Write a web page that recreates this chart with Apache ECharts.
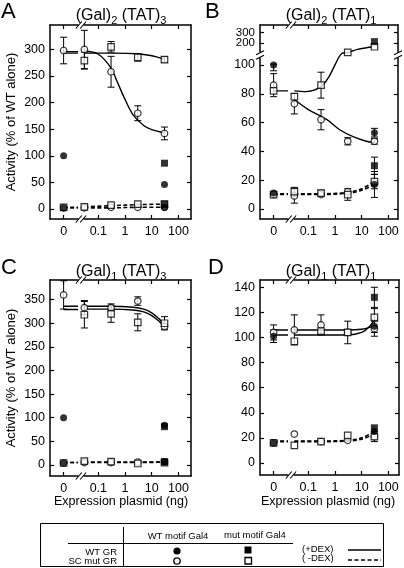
<!DOCTYPE html>
<html><head><meta charset="utf-8">
<script src="https://cdn.jsdelivr.net/npm/echarts@6/dist/echarts.min.js"></script>
<style>html,body{margin:0;padding:0;background:#fff}#c{width:404px;height:568px}</style>
</head><body><div id="c"></div><script>
// ---------- shared x (ng of expression plasmid) ----------
const X_NG = [0, 0.03, 0.3, 3, 30];
const X_TICK_NG = [0, 0.1, 1, 10, 100];
const X_TICK_LABELS = ['0', '0.1', '1', '10', '100'];

// ---------- Panel A : (Gal)2 (TAT)3 ----------
const A_Y_TICKS = [0, 50, 100, 150, 200, 250, 300];
const A_FC_P = [100, null, null, null, 46];
const A_FS_P = [null, null, null, null, 86];
const A_OC_P = [298, 300, 258, 180, 142];
const A_OC_P_ERR = [25, 36, 29, 14, 12];
const A_OS_P = [null, 279, 305, 285, 281];
const A_OS_P_ERR = [null, 16, 10, 7, 5];
const A_FC_M = [2, null, null, null, 3];
const A_FS_M = [null, null, null, null, 9];
const A_OC_M = [2, 2, 3, 3, 3];
const A_OS_M = [3, 4, 7, 9, 9];
const A_FIT_OC_ZERO = 296;
const A_FIT_OC_X = [0.03, 0.1, 0.3, 0.5, 1, 2, 5, 10, 30];
const A_FIT_OC_Y = [297, 291, 265, 240, 206, 177, 157, 149, 143];
const A_FIT_OS_ZERO = 293;
const A_FIT_OS_X = [0.03, 0.3, 3, 8, 15, 30];
const A_FIT_OS_Y = [293, 293, 292, 289, 286, 281];
const A_FITM_OC_ZERO = 2;
const A_FITM_OC_X = [0.03, 0.3, 3, 30];
const A_FITM_OC_Y = [2, 2, 3, 3];
const A_FITM_OS_ZERO = 3;
const A_FITM_OS_X = [0.03, 0.3, 3, 30];
const A_FITM_OS_Y = [4, 6, 8, 9];

// ---------- Panel B : (Gal)2 (TAT)1 (broken y axis) ----------
const B_Y_TICKS = [0, 20, 40, 60, 80, 100];
const B_Y_TICKS_UPPER = [200, 300];
const B_FC_P = [100, null, null, null, 53];
const B_FC_P_ERR = [4, null, null, null, 3];
const B_FS_P = [null, null, null, null, 213];
const B_OC_P = [86, 73, 62, 47, 47];
const B_OC_P_ERR = [8, 7, 7, 2.5, 2];
const B_OS_P = [82, 78, 86, 157, 183];
const B_OS_P_ERR = [null, null, 9, null, null];
const B_FC_M = [11, null, null, null, 17];
const B_FC_M_ERR = [1, null, null, null, 9];
const B_FS_M = [null, null, null, null, 30];
const B_FS_M_ERR = [null, null, null, null, 6];
const B_OC_M = [10, 9, 10, 12, 18];
const B_OC_M_ERR = [null, 5, null, null, null];
const B_OS_M = [10, 12, 11, 10, 19];
const B_OS_M_ERR = [null, 3, 2, 4, 5];
const B_FIT_OS_ZERO = 82;
const B_FIT_OS_X = [0.03, 0.08, 0.3, 0.6, 1, 1.8, 3, 7, 25];
const B_FIT_OS_Y = [82, 81.5, 85, 92, 101, 152, 157, 171, 183];
const B_FIT_OC_X = [0.03, 0.1, 0.5, 1.5, 5, 15, 30];
const B_FIT_OC_Y = [76, 69, 62, 55, 50, 47, 46];
const B_FITM_OC_ZERO = 10;
const B_FITM_OC_X = [0.03, 0.3, 3, 10, 30];
const B_FITM_OC_Y = [10, 10, 11, 13, 17];
const B_FITM_OS_ZERO = 10.5;
const B_FITM_OS_X = [0.03, 0.3, 3, 10, 30];
const B_FITM_OS_Y = [10.5, 10.5, 11.5, 14, 19];

// ---------- Panel C : (Gal)1 (TAT)3 ----------
const C_Y_TICKS = [0, 50, 100, 150, 200, 250, 300, 350];
const C_FC_P = [100, null, null, null, 84];
const C_FS_P = [null, null, null, null, 81];
const C_OC_P = [360, 333, 333, 347, 293];
const C_OC_P_ERR = [30, 15, 8, 9, 5];
const C_OS_P = [null, 318, 320, 302, 300];
const C_OS_P_ERR = [null, 28, 18, 18, 14];
const C_FC_M = [4, null, null, null, 6];
const C_FS_M = [null, null, null, null, 7];
const C_OC_M = [4, 5, 5, 6, 6];
const C_OS_M = [4, 8, 7, 3, 5];
const C_FIT_OC_ZERO = 336;
const C_FIT_OC_X = [0.03, 0.3, 2, 5, 10, 20, 30];
const C_FIT_OC_Y = [336, 336, 334, 330, 322, 308, 297];
const C_FIT_OS_ZERO = 329;
const C_FIT_OS_X = [0.03, 0.3, 2, 5, 10, 20, 30];
const C_FIT_OS_Y = [330, 330, 328, 324, 316, 303, 294];
const C_FITM_OC_ZERO = 5;
const C_FITM_OC_X = [0.03, 0.3, 3, 30];
const C_FITM_OC_Y = [5, 5, 5, 6];
const C_FITM_OS_ZERO = 5;
const C_FITM_OS_X = [0.03, 0.3, 3, 30];
const C_FITM_OS_Y = [6, 6, 6, 6];

// ---------- Panel D : (Gal)1 (TAT)1 ----------
const D_Y_TICKS = [0, 20, 40, 60, 80, 100, 120, 140];
const D_FC_P = [101, null, null, null, 109];
const D_FC_P_ERR = [5, null, null, null, 5];
const D_FS_P = [null, null, null, null, 132];
const D_FS_P_ERR = [null, null, null, null, 8];
const D_OC_P = [104, 106, 110, 104, 107];
const D_OC_P_ERR = [6, 12, 8, 9, 6];
const D_OS_P = [null, 97, 105, 104, 116];
const D_OS_P_ERR = [null, null, null, null, 7];
const D_FC_M = [16, null, null, null, 25];
const D_FS_M = [null, null, null, null, 28];
const D_OC_M = [16, 23, 17, 18, 21];
const D_OC_M_ERR = [null, null, null, null, 4];
const D_OS_M = [16, 14, 17, 22, 21];
const D_FIT_OC_ZERO = 106;
const D_FIT_OC_X = [0.03, 0.3, 3, 10, 20, 30];
const D_FIT_OC_Y = [106, 106, 106, 106.5, 108, 109];
const D_FIT_OS_ZERO = 102;
const D_FIT_OS_X = [0.03, 0.3, 3, 10, 20, 30];
const D_FIT_OS_Y = [102, 102, 102, 104, 109, 114];
const D_FITM_OC_ZERO = 17;
const D_FITM_OC_X = [0.03, 0.3, 3, 10, 30];
const D_FITM_OC_Y = [17, 17, 17.5, 19, 23];
const D_FITM_OS_ZERO = 17.5;
const D_FITM_OS_X = [0.03, 0.3, 3, 10, 30];
const D_FITM_OS_Y = [17.5, 17.5, 18, 20, 25];

// ---------- scale helpers ----------
const ZERO_LOG = -2.3, BREAK_L_LOG = -1.76, BREAK_MARK_LOG = -1.65;
function xpos(v) { return v === 0 ? ZERO_LOG : Math.log10(v); }
const ident = v => v;
function tB(v) { // broken y scale of panel B
  if (v <= 100) return v;
  if (v <= 200) return 100 + (v - 100) * 0.153;
  return 115.3 + (v - 200) * 0.072;
}
const FONT = 'Liberation Sans, Arial, Helvetica, sans-serif';

const panels = [
  { grid: {left: 50, top: 25, width: 141, height: 194}, xr: [-2.81, 2.47], yr: [-19, 346], yTicks: A_Y_TICKS, tf: ident,
    pts: {fcP: [A_FC_P], fsP: [A_FS_P], ocP: [A_OC_P, A_OC_P_ERR], osP: [A_OS_P, A_OS_P_ERR], fcM: [A_FC_M], fsM: [A_FS_M], ocM: [A_OC_M], osM: [A_OS_M]},
    fits: [[A_FIT_OC_ZERO, A_FIT_OC_X, A_FIT_OC_Y, false], [A_FIT_OS_ZERO, A_FIT_OS_X, A_FIT_OS_Y, false],
           [A_FITM_OC_ZERO, A_FITM_OC_X, A_FITM_OC_Y, true], [A_FITM_OS_ZERO, A_FITM_OS_X, A_FITM_OS_Y, true]] },
  { grid: {left: 260, top: 25, width: 138, height: 194}, xr: [-2.81, 2.36], yr: [-7, 127.8], yTicks: B_Y_TICKS, yTicksUpper: B_Y_TICKS_UPPER, tf: tB, yBreak: 107,
    pts: {fcP: [B_FC_P, B_FC_P_ERR], fsP: [B_FS_P], ocP: [B_OC_P, B_OC_P_ERR], osP: [B_OS_P, B_OS_P_ERR], fcM: [B_FC_M, B_FC_M_ERR], fsM: [B_FS_M, B_FS_M_ERR], ocM: [B_OC_M, B_OC_M_ERR], osM: [B_OS_M, B_OS_M_ERR]},
    fits: [[B_FIT_OS_ZERO, B_FIT_OS_X, B_FIT_OS_Y, false], [null, B_FIT_OC_X, B_FIT_OC_Y, false],
           [B_FITM_OC_ZERO, B_FITM_OC_X, B_FITM_OC_Y, true], [B_FITM_OS_ZERO, B_FITM_OS_X, B_FITM_OS_Y, true]] },
  { grid: {left: 50, top: 280, width: 141, height: 196}, xr: [-2.81, 2.47], yr: [-23.5, 391.6], yTicks: C_Y_TICKS, tf: ident,
    pts: {fcP: [C_FC_P], fsP: [C_FS_P], ocP: [C_OC_P, C_OC_P_ERR], osP: [C_OS_P, C_OS_P_ERR], fcM: [C_FC_M], fsM: [C_FS_M], ocM: [C_OC_M], osM: [C_OS_M]},
    fits: [[C_FIT_OC_ZERO, C_FIT_OC_X, C_FIT_OC_Y, false], [C_FIT_OS_ZERO, C_FIT_OS_X, C_FIT_OS_Y, false],
           [C_FITM_OC_ZERO, C_FITM_OC_X, C_FITM_OC_Y, true], [C_FITM_OS_ZERO, C_FITM_OS_X, C_FITM_OS_Y, true]] },
  { grid: {left: 260, top: 280, width: 139, height: 195}, xr: [-2.81, 2.4], yr: [-9.6, 145.8], yTicks: D_Y_TICKS, tf: ident,
    pts: {fcP: [D_FC_P, D_FC_P_ERR], fsP: [D_FS_P, D_FS_P_ERR], ocP: [D_OC_P, D_OC_P_ERR], osP: [D_OS_P, D_OS_P_ERR], fcM: [D_FC_M], fsM: [D_FS_M], ocM: [D_OC_M, D_OC_M_ERR], osM: [D_OS_M]},
    fits: [[D_FIT_OC_ZERO, D_FIT_OC_X, D_FIT_OC_Y, false], [D_FIT_OS_ZERO, D_FIT_OS_X, D_FIT_OS_Y, false],
           [D_FITM_OC_ZERO, D_FITM_OC_X, D_FITM_OC_Y, true], [D_FITM_OS_ZERO, D_FITM_OS_X, D_FITM_OS_Y, true]] }
];

const MARK = {
  fc: {symbol: 'circle', symbolSize: 7, itemStyle: {color: '#000'}},
  oc: {symbol: 'circle', symbolSize: 6.5, itemStyle: {color: '#fff', borderColor: '#000', borderWidth: 1.2}},
  fs: {symbol: 'rect', symbolSize: 7, itemStyle: {color: '#000'}},
  os: {symbol: 'rect', symbolSize: 6.5, itemStyle: {color: '#fff', borderColor: '#000', borderWidth: 1.2}}
};

const grids = [], xAxes = [], yAxes = [], series = [];
const tickStyle = {show: true, inside: true, length: 4, lineStyle: {color: '#000', width: 1.2}};
const lineStyleAx = {show: true, onZero: false, lineStyle: {color: '#000', width: 1.5}};
const mkFmt = (vals, labels) => v => { const k = vals.findIndex(u => Math.abs(u - v) < 1e-6); return k >= 0 ? labels[k] : ''; };

panels.forEach((p, i) => {
  grids.push(Object.assign({show: false, outerBoundsMode: 'none', containLabel: false}, p.grid));
  const xVals = X_TICK_NG.map(xpos);
  const yLow = p.yTicks.map(p.tf);
  const yUpTicks = p.yTicksUpper || [];
  const yUp = yUpTicks.map(p.tf);
  const yAll = yLow.concat(yUp);
  const xi = xAxes.length;
  ['bottom', 'top'].forEach((pos, j) => {
    xAxes.push({type: 'value', gridIndex: i, position: pos, min: p.xr[0], max: p.xr[1],
      axisLine: lineStyleAx, splitLine: {show: false},
      axisTick: Object.assign({customValues: xVals}, tickStyle),
      axisLabel: {show: j === 0, customValues: xVals, formatter: mkFmt(xVals, X_TICK_LABELS), margin: 6, color: '#000', fontSize: 12.5, fontFamily: FONT}});
  });
  const yi = yAxes.length;
  ['left', 'right'].forEach((pos, j) => {
    yAxes.push({type: 'value', gridIndex: i, position: pos, min: p.yr[0], max: p.yr[1],
      axisLine: lineStyleAx, splitLine: {show: false},
      axisTick: Object.assign({customValues: yAll}, tickStyle),
      axisLabel: {show: j === 0, customValues: yLow, formatter: mkFmt(yLow, p.yTicks.map(String)), margin: 5, color: '#000', fontSize: 12.5, fontFamily: FONT}});
  });
  // labels of the compressed upper segment, one axis per label so none is hidden
  yUp.forEach((u, k) => {
    yAxes.push({type: 'value', gridIndex: i, position: 'left', min: p.yr[0], max: p.yr[1],
      axisLine: {show: false}, axisTick: {show: false}, splitLine: {show: false},
      axisLabel: {show: true, customValues: [u], formatter: () => String(yUpTicks[k]), margin: 5, color: '#000', fontSize: 11.5, fontFamily: FONT}});
  });
  // fits
  p.fits.forEach(([zero, xs, ys, dashed]) => {
    const ls = {color: '#000', width: dashed ? 1.6 : 1.4, type: dashed ? [4, 2.5] : 'solid'};
    if (zero !== null) {
      series.push({type: 'line', xAxisIndex: xi, yAxisIndex: yi, symbol: 'none', silent: true, animation: false, z: 2,
        lineStyle: ls, data: [[ZERO_LOG, p.tf(zero)], [BREAK_L_LOG, p.tf(zero)]]});
    }
    series.push({type: 'line', xAxisIndex: xi, yAxisIndex: yi, symbol: 'none', silent: true, animation: false, z: 2,
      smooth: 0.35, lineStyle: ls, data: xs.map((x, k) => [xpos(x), p.tf(ys[k])])});
  });
  // error bars
  const eb = [];
  Object.values(p.pts).forEach(([vals, errs]) => {
    if (!errs) return;
    vals.forEach((v, k) => { if (v !== null && errs[k] !== null) eb.push([xpos(X_NG[k]), p.tf(v - errs[k]), p.tf(v + errs[k])]); });
  });
  series.push({type: 'custom', xAxisIndex: xi, yAxisIndex: yi, z: 3, silent: true, animation: false,
    encode: {x: 0, y: [1, 2]}, data: eb,
    renderItem: (params, api) => {
      const x = api.value(0), lo = api.value(1), hi = api.value(2);
      const a = api.coord([x, hi]), b = api.coord([x, lo]), w = 3.5;
      const st = {stroke: '#000', lineWidth: 1};
      return {type: 'group', children: [
        {type: 'line', shape: {x1: a[0], y1: a[1], x2: b[0], y2: b[1]}, style: st},
        {type: 'line', shape: {x1: a[0] - w, y1: a[1], x2: a[0] + w, y2: a[1]}, style: st},
        {type: 'line', shape: {x1: b[0] - w, y1: b[1], x2: b[0] + w, y2: b[1]}, style: st}]};
    }});
  // markers (open first, filled on top)
  const order = [['ocM', 'oc'], ['osM', 'os'], ['ocP', 'oc'], ['osP', 'os'], ['fcM', 'fc'], ['fsM', 'fs'], ['fcP', 'fc'], ['fsP', 'fs']];
  order.forEach(([key, m], n) => {
    const vals = p.pts[key][0];
    const data = [];
    vals.forEach((v, k) => { if (v !== null) data.push([xpos(X_NG[k]), p.tf(v)]); });
    series.push(Object.assign({type: 'scatter', xAxisIndex: xi, yAxisIndex: yi, z: 5 + n, silent: true, animation: false, data}, MARK[m]));
  });
  p.axIdx = {xi, yi};
});

// ---------- texts ----------
const graphic = [];
const rich = {s: {fontSize: 11, fontFamily: FONT, verticalAlign: 'bottom', lineHeight: 10}};
function title(x, y, a, b) {
  graphic.push({type: 'text', x, y, style: {text: '(Gal){s|' + a + '} (TAT){s|' + b + '}', rich, fontSize: 16, lineHeight: 20, fontFamily: FONT, fill: '#000', align: 'center', verticalAlign: 'middle'}});
}
function letter(x, y, t) { graphic.push({type: 'text', x, y, style: {text: t, fontSize: 22, fontFamily: FONT, fill: '#000'}}); }
letter(1, 1, 'A'); letter(205, 1, 'B'); letter(1, 257, 'C'); letter(208, 257, 'D');
title(121, 16, '2', '3'); title(331, 16, '2', '1'); title(121, 272, '1', '3'); title(331, 272, '1', '1');
[[11, 122], [11, 378]].forEach(([x, y]) => graphic.push({type: 'text', x, y, rotation: Math.PI / 2,
  style: {text: 'Activity (% of WT alone)', fontSize: 13, fontFamily: FONT, fill: '#000', align: 'center', verticalAlign: 'middle'}}));
[[121, 502], [328, 502]].forEach(([x, y]) => graphic.push({type: 'text', x, y,
  style: {text: 'Expression plasmid (ng)', fontSize: 12.5, fontFamily: FONT, fill: '#000', align: 'center', verticalAlign: 'middle'}}));

// ---------- legend box ----------
const L = {stroke: '#000', lineWidth: 1};
graphic.push({type: 'rect', shape: {x: 40.5, y: 523.5, width: 343, height: 43}, style: {fill: 'none', stroke: '#000', lineWidth: 1}});
graphic.push({type: 'line', shape: {x1: 68, y1: 543.5, x2: 293, y2: 543.5}, style: L});
graphic.push({type: 'line', shape: {x1: 123.5, y1: 527, x2: 123.5, y2: 566}, style: L});
function ltext(x, y, t, align) { graphic.push({type: 'text', x, y, style: {text: t, fontSize: 9.5, fontFamily: FONT, fill: '#000', align, verticalAlign: 'middle'}}); }
ltext(178, 536, 'WT motif Gal4', 'center'); ltext(255, 535, 'mut motif Gal4', 'center');
ltext(117, 552, 'WT GR', 'right'); ltext(117, 561, 'SC mut GR', 'right');
ltext(302, 549, '(+DEX)', 'left'); ltext(302, 558, '( -DEX)', 'left');
graphic.push({type: 'circle', shape: {cx: 177, cy: 551, r: 3.6}, style: {fill: '#000'}});
graphic.push({type: 'circle', shape: {cx: 177, cy: 561, r: 3.2}, style: {fill: '#fff', stroke: '#000', lineWidth: 1.3}});
graphic.push({type: 'rect', shape: {x: 244.5, y: 546.5, width: 7, height: 7}, style: {fill: '#000'}});
graphic.push({type: 'rect', shape: {x: 245, y: 557.5, width: 6.5, height: 6.5}, style: {fill: '#fff', stroke: '#000', lineWidth: 1.3}});
graphic.push({type: 'line', shape: {x1: 348, y1: 550, x2: 381, y2: 550}, style: {stroke: '#000', lineWidth: 1.6}});
graphic.push({type: 'line', shape: {x1: 348, y1: 560, x2: 381, y2: 560}, style: {stroke: '#000', lineWidth: 1.6, lineDash: [4, 2.5]}});

const chart = echarts.init(document.getElementById('c'), null, {renderer: 'canvas', width: 404, height: 568});
chart.setOption({animation: false, backgroundColor: '#fff', grid: grids, xAxis: xAxes, yAxis: yAxes, series, graphic});

// ---------- axis break marks ----------
const marks = [];
function slashPair(cx, cy, horizontal) {
  const g = [];
  if (horizontal) { // break on x-axis line
    g.push({type: 'rect', shape: {x: cx - 2.5, y: cy - 2, width: 5, height: 4}, style: {fill: '#fff'}, z: 100});
    [-2.2, 2.2].forEach(d => g.push({type: 'line', shape: {x1: cx + d - 3, y1: cy + 3.5, x2: cx + d + 3, y2: cy - 3.5}, style: {stroke: '#000', lineWidth: 1.1}, z: 101}));
  } else { // break on y-axis line
    g.push({type: 'rect', shape: {x: cx - 2, y: cy - 2.5, width: 4, height: 5}, style: {fill: '#fff'}, z: 100});
    [-2.2, 2.2].forEach(d => g.push({type: 'line', shape: {x1: cx - 4, y1: cy + d + 2, x2: cx + 4, y2: cy + d - 2}, style: {stroke: '#000', lineWidth: 1.1}, z: 101}));
  }
  return g;
}
panels.forEach((p, i) => {
  const f = {xAxisIndex: p.axIdx.xi, yAxisIndex: p.axIdx.yi};
  const top = chart.convertToPixel(f, [BREAK_MARK_LOG, p.yr[1]]);
  const bot = chart.convertToPixel(f, [BREAK_MARK_LOG, p.yr[0]]);
  marks.push(...slashPair(top[0], top[1], true), ...slashPair(bot[0], bot[1], true));
  if (p.yBreak) {
    const l = chart.convertToPixel(f, [p.xr[0], p.yBreak]);
    const r = chart.convertToPixel(f, [p.xr[1], p.yBreak]);
    marks.push(...slashPair(l[0], l[1], false), ...slashPair(r[0], r[1], false));
  }
});
chart.setOption({graphic: graphic.concat(marks)}, {replaceMerge: ['graphic']});
</script></body></html>
